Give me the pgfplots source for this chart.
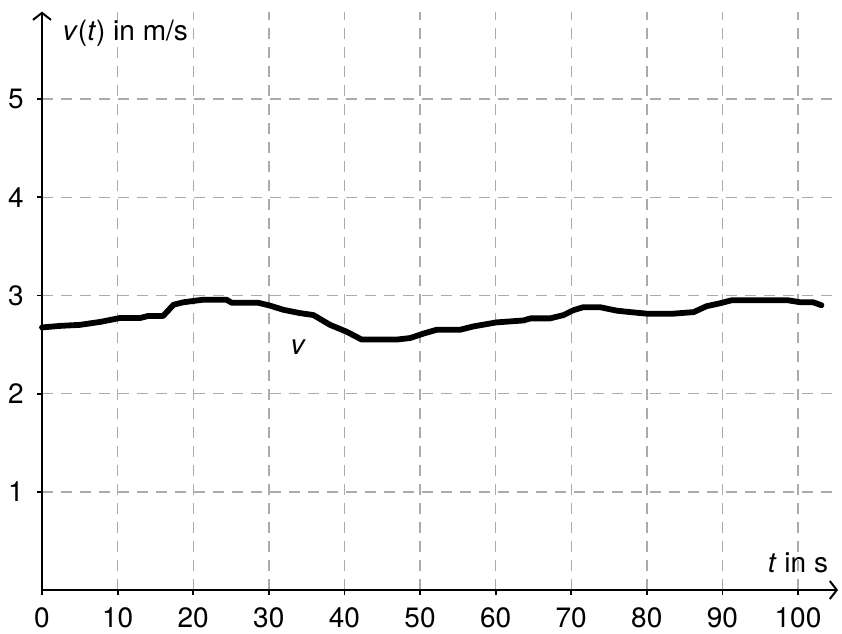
\documentclass[border=0pt]{standalone}
\usepackage{fontspec}
\setmainfont{TeX Gyre Heros}
\usepackage{pgfplots}
\pgfplotsset{compat=1.18}
\usetikzlibrary{arrows.meta}
\begin{document}
\begin{tikzpicture}
\useasboundingbox (-42pt,-43pt) rectangle (800pt,590pt);
\begin{axis}[
  at={(0,0)}, anchor=origin,
  x=7.56pt, y=98.2pt,
  xmin=0, xmax=105.3, ymin=0, ymax=5.89,
  axis lines=left,
  axis line style={line width=2.6pt, -{Straight Barb[length=7pt,width=18pt,line width=2pt]}},
  xtick={0,10,...,100}, ytick={1,2,3,4,5},
  tick align=outside, major tick length=5pt,
  tick style={black, line width=1.8pt},
  grid=major,
  major grid style={black!33, line width=1.4pt, dash pattern=on 11pt off 8pt},
  ticklabel style={font=\fontsize{28}{32}\selectfont, inner sep=0pt},
  xticklabel style={anchor=north, yshift=-12pt},
  yticklabel style={anchor=east, xshift=-13pt},
  /pgf/number format/assume math mode=true,
  clip=false,
]
\addplot[black, line width=5.8pt, line join=round, line cap=round] coordinates {
(0,2.674) (2.5,2.69) (5.0,2.70) (7.7,2.73) (10.3,2.77) (13,2.77) (14,2.79) (16.0,2.79)
(16.5,2.83) (17.4,2.905) (18.7,2.93) (21.3,2.956) (24.4,2.956) (25.1,2.925) (28.6,2.925)
(30.2,2.895) (31.9,2.854) (34.1,2.82) (35.9,2.80) (38.1,2.70) (40.3,2.63) (42.3,2.55)
(46.9,2.55) (48.7,2.566) (50.4,2.61) (52.2,2.65) (55.3,2.65) (57.05,2.684) (60.1,2.725)
(63.7,2.745) (64.6,2.766) (67.2,2.766) (69.0,2.80) (70.3,2.85) (71.6,2.88) (73.8,2.88)
(76.0,2.845) (77.8,2.83) (80.0,2.814) (83.5,2.814) (86.2,2.83) (87.9,2.89) (89.7,2.92)
(91.2,2.95) (98.7,2.95) (100.3,2.93) (102.0,2.93) (103.1,2.90)
};
\node[anchor=west, font=\fontsize{28}{32}\selectfont, inner sep=0pt] at (axis cs:2.7,5.67) {\textit{v}(\textit{t}) in m/s};
\node[anchor=east, font=\fontsize{28}{32}\selectfont, inner sep=0pt] at (axis cs:104,0.28) {\textit{t} in s};
\node[font=\fontsize{28}{32}\selectfont, inner sep=0pt] at (axis cs:33.9,2.47) {\textit{v}};
\end{axis}
\end{tikzpicture}
\end{document}
